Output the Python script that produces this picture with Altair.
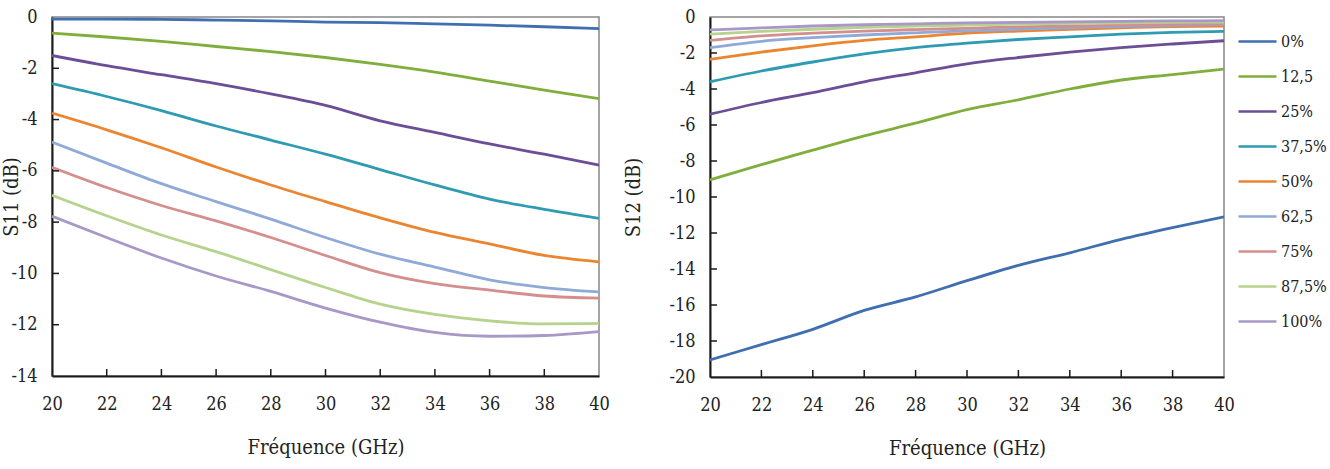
import altair as alt
import pandas as pd

freq = [20, 22, 24, 26, 28, 30, 32, 34, 36, 38, 40]
series = ["0%", "12,5", "25%", "37,5%", "50%", "62,5", "75%", "87,5%", "100%"]
colors = ["#3F6FB0", "#80AE3C", "#6B4E96", "#2F9BB3", "#EC8530",
          "#8FA9D8", "#D48E8E", "#B5D38C", "#A898C8"]

# S11 (dB)
s11_0 = [-0.08, -0.08, -0.09, -0.12, -0.15, -0.20, -0.22, -0.27, -0.32, -0.38, -0.45]
s11_125 = [-0.63, -0.78, -0.95, -1.15, -1.35, -1.58, -1.85, -2.15, -2.50, -2.85, -3.18]
s11_25 = [-1.50, -1.90, -2.25, -2.60, -3.00, -3.45, -4.05, -4.50, -4.95, -5.35, -5.78]
s11_375 = [-2.60, -3.10, -3.65, -4.25, -4.80, -5.35, -5.95, -6.55, -7.10, -7.50, -7.85]
s11_50 = [-3.75, -4.40, -5.10, -5.85, -6.55, -7.20, -7.83, -8.40, -8.85, -9.30, -9.55]
s11_625 = [-4.88, -5.70, -6.50, -7.20, -7.88, -8.60, -9.25, -9.75, -10.25, -10.55, -10.72]
s11_75 = [-5.86, -6.65, -7.35, -7.95, -8.60, -9.30, -9.97, -10.40, -10.65, -10.88, -10.96]
s11_875 = [-6.95, -7.75, -8.50, -9.15, -9.85, -10.55, -11.20, -11.60, -11.85, -11.97, -11.95]
s11_100 = [-7.77, -8.60, -9.40, -10.10, -10.70, -11.35, -11.90, -12.30, -12.45, -12.42, -12.27]

# S12 (dB)
s12_0 = [-19.05, -18.20, -17.35, -16.30, -15.55, -14.65, -13.80, -13.10, -12.35, -11.70, -11.10]
s12_125 = [-9.05, -8.20, -7.40, -6.60, -5.90, -5.15, -4.60, -4.00, -3.50, -3.20, -2.90]
s12_25 = [-5.40, -4.75, -4.20, -3.60, -3.10, -2.60, -2.25, -1.95, -1.70, -1.50, -1.32]
s12_375 = [-3.60, -3.00, -2.50, -2.05, -1.70, -1.45, -1.25, -1.10, -0.95, -0.85, -0.80]
s12_50 = [-2.35, -1.95, -1.60, -1.30, -1.10, -0.90, -0.78, -0.68, -0.60, -0.53, -0.50]
s12_625 = [-1.70, -1.35, -1.15, -1.00, -0.88, -0.77, -0.68, -0.60, -0.53, -0.47, -0.42]
s12_75 = [-1.30, -1.05, -0.90, -0.78, -0.70, -0.63, -0.55, -0.50, -0.45, -0.40, -0.38]
s12_875 = [-0.95, -0.80, -0.68, -0.58, -0.50, -0.45, -0.40, -0.35, -0.32, -0.30, -0.28]
s12_100 = [-0.72, -0.60, -0.50, -0.43, -0.38, -0.33, -0.30, -0.27, -0.24, -0.22, -0.20]

x_ticks = [20, 22, 24, 26, 28, 30, 32, 34, 36, 38, 40]
x_inner = [22, 24, 26, 28, 30, 32, 34, 36, 38]
y1_ticks = [-14, -12, -10, -8, -6, -4, -2, 0]
y1_inner = [-12, -10, -8, -6, -4, -2]
y2_ticks = [-20, -18, -16, -14, -12, -10, -8, -6, -4, -2, 0]
y2_inner = [-18, -16, -14, -12, -10, -8, -6, -4, -2]

s11 = [s11_0, s11_125, s11_25, s11_375, s11_50, s11_625, s11_75, s11_875, s11_100]
s12 = [s12_0, s12_125, s12_25, s12_375, s12_50, s12_625, s12_75, s12_875, s12_100]


def long(tables):
    rows = []
    for name, vals in zip(series, tables):
        for f, v in zip(freq, vals):
            rows.append({"f": f, "v": v, "s": name})
    return pd.DataFrame(rows)


df1 = long(s11)
df2 = long(s12)

FONT = "DejaVu Serif Condensed, DejaVu Serif"
TICK = 7
W1, H1 = 547, 359
W2, H2 = 514, 360

x_scale = alt.Scale(domain=[20, 40], nice=False, zero=False)
color_scale = alt.Scale(domain=series, range=colors)

x_axis = alt.Axis(values=x_ticks, tickSize=0, labelPadding=19, title="Fréquence (GHz)",
                  titlePadding=24, grid=False, domainColor="#1a1a1a", domainWidth=2,
                  labelFlush=False)


def panel(df, W, H, ydom, yticks, yinner, ytitle, title_x, legend):
    y_scale = alt.Scale(domain=ydom, nice=False, zero=False)
    y_axis = alt.Axis(values=yticks, tickSize=0, labelPadding=15, title=ytitle,
                      titleX=title_x, grid=False, domainColor="#1a1a1a", domainWidth=2,
                      labelExpr="'' + datum.value", labelFlush=False)
    lines = alt.Chart(df).mark_line(strokeWidth=2.8, clip=True, interpolate="monotone").encode(
        x=alt.X("f:Q", scale=x_scale, axis=x_axis),
        y=alt.Y("v:Q", scale=y_scale, axis=y_axis),
        color=alt.Color("s:N", scale=color_scale, sort=series, legend=legend),
        order=alt.Order("f:Q"),
    )
    xt = alt.Chart(pd.DataFrame({"f": x_inner})).mark_rule(color="#1a1a1a", strokeWidth=1.5).encode(
        x=alt.X("f:Q", scale=x_scale, axis=x_axis),
        y=alt.value(H - TICK), y2=alt.value(H),
    )
    yt = alt.Chart(pd.DataFrame({"v": yinner})).mark_rule(color="#1a1a1a", strokeWidth=1.5).encode(
        y=alt.Y("v:Q", scale=y_scale, axis=y_axis),
        x=alt.value(0), x2=alt.value(TICK),
    )
    return alt.layer(lines, xt, yt).properties(width=W, height=H)


left = panel(df1, W1, H1, [-14, 0], y1_ticks, y1_inner, "S11 (dB)", -31, None)
legend = alt.Legend(orient="none", legendX=527, legendY=4, title=None,
                    symbolType="stroke", symbolSize=1444, symbolStrokeWidth=2.5,
                    labelFont=FONT, labelFontSize=16, labelColor="#222222",
                    labelOffset=3, rowPadding=6, padding=0)
right = panel(df2, W2, H2, [-20, 0], y2_ticks, y2_inner, "S12 (dB)", -67, legend)

chart = alt.hconcat(left, right, spacing=111, bounds="flush").resolve_scale(
    color="independent").resolve_legend(color="independent").properties(
    padding={"left": 0, "top": 7, "right": 0, "bottom": 0},
    background="white",
).configure_view(stroke="#878787", strokeWidth=1.5).configure_axis(
    labelFont=FONT, labelFontSize=18, labelColor="#222222",
    titleFont=FONT, titleFontSize=20, titleFontWeight="normal", titleColor="#222222",
)

chart.save("out.html", embed_options={"renderer": "svg", "actions": False})
